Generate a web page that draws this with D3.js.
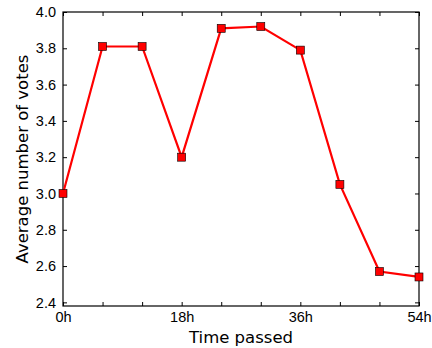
<!DOCTYPE html>
<html lang="en">
<head>
  <meta charset="UTF-8">
  <title>Average number of votes</title>
  <script src="https://d3js.org/d3.v7.min.js"></script>
  <style>
    body { margin: 0; background: white; }
    svg { font-family: "DejaVu Sans", sans-serif; }
  </style>
</head>
<body>
  <svg></svg>
  <script>
    const hours = [0, 6, 12, 18, 24, 30, 36, 42, 48, 54];
    const votes = [3.00, 3.81, 3.81, 3.20, 3.91, 3.92, 3.79, 3.05, 2.57, 2.54];
    const xTicks = [0, 6, 12, 18, 24, 30, 36, 42, 48, 54];
    const xLabelled = [0, 18, 36, 54];
    const yTicks = [2.4, 2.6, 2.8, 3.0, 3.2, 3.4, 3.6, 3.8, 4.0];

    const W = 432, H = 348;
    const margin = { top: 12, right: 13, bottom: 42, left: 63 };
    const width = W - margin.left - margin.right;
    const height = H - margin.top - margin.bottom;

    const svg = d3.select('svg')
        .attr('width', W)
        .attr('height', H)
      .append('g')
        .attr('transform', `translate(${margin.left},${margin.top})`);

    const x = d3.scaleLinear().domain([0, 54]).range([0, width]);
    const y = d3.scaleLinear().domain([2.38, 4.0]).range([height, 0]);

    // inward ticks on all four sides, matplotlib style
    const tick = 4;
    svg.append('g')
        .attr('transform', `translate(0,${height})`)
        .call(d3.axisBottom(x).tickValues(xTicks).tickSizeInner(-tick).tickSizeOuter(0).tickPadding(6)
          .tickFormat(d => xLabelled.includes(d) ? d + 'h' : ''));
    svg.append('g')
        .call(d3.axisTop(x).tickValues(xTicks).tickSizeInner(-tick).tickSizeOuter(0).tickFormat(''));
    svg.append('g')
        .call(d3.axisLeft(y).tickValues(yTicks).tickSizeInner(-tick).tickSizeOuter(0).tickPadding(7)
          .tickFormat(d3.format('.1f')));
    svg.append('g')
        .attr('transform', `translate(${width},0)`)
        .call(d3.axisRight(y).tickValues(yTicks).tickSizeInner(-tick).tickSizeOuter(0).tickFormat(''));

    svg.selectAll('.domain').remove();
    svg.selectAll('.tick line').attr('stroke', '#000').attr('stroke-width', 1);
    svg.selectAll('.tick text').attr('fill', '#000').style('font-size', '14.5px');

    svg.append('rect')
        .attr('width', width)
        .attr('height', height)
        .attr('fill', 'none')
        .attr('stroke', '#000')
        .attr('stroke-width', 1.2);

    const pts = hours.map((h, i) => ({ h: h, v: votes[i] }));

    svg.append('path')
        .datum(pts)
        .attr('fill', 'none')
        .attr('stroke', '#ff0000')
        .attr('stroke-width', 2.2)
        .attr('d', d3.line().x(d => x(d.h)).y(d => y(d.v)));

    const s = 8;
    svg.selectAll('.marker')
        .data(pts)
        .enter()
        .append('rect')
        .attr('class', 'marker')
        .attr('x', d => x(d.h) - s / 2)
        .attr('y', d => y(d.v) - s / 2)
        .attr('width', s)
        .attr('height', s)
        .attr('fill', '#ff0000')
        .attr('stroke', '#000')
        .attr('stroke-width', 0.6);

    svg.append('text')
        .attr('x', width / 2)
        .attr('y', height + 37)
        .attr('text-anchor', 'middle')
        .style('font-size', '16.5px')
        .text('Time passed');

    svg.append('text')
        .attr('transform', 'rotate(-90)')
        .attr('x', -height / 2)
        .attr('y', -35)
        .attr('text-anchor', 'middle')
        .style('font-size', '16.5px')
        .text('Average number of votes');
  </script>
</body>
</html>
